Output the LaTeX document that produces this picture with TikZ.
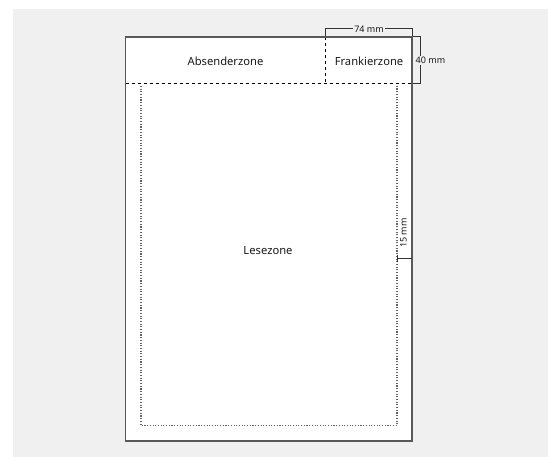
\documentclass[tikz,border=0pt]{standalone}
\usepackage{fontspec}
\setmainfont{Noto Sans}
\begin{document}
\begin{tikzpicture}[x=1pt,y=-1pt,
  page/.style={draw=black!65,line width=1.6pt},
  zoneline/.style={draw=black,dash pattern=on 3.5pt off 2.5pt,line width=1pt},
  readline/.style={draw=black!62,line width=1.1pt,dash pattern=on 1.1pt off 1.6pt},
  dimline/.style={draw=black!80,line width=1pt},
  zonelabel/.style={font=\fontsize{11.2}{13}\selectfont,text=black!90},
  dimlabel/.style={font=\fontsize{9}{10}\selectfont,text=black!90,fill=black!6,inner sep=1.5pt}]
\useasboundingbox (0,0) rectangle (548,457);
\fill[white] (0,0) rectangle (548,457);
\fill[black!6] (13,9) rectangle (548,457);
% page
\fill[white] (125.5,37) rectangle (412,441);
% reading zone
\draw[readline] (141,86) -- (141,425.5) -- (397,425.5) -- (397,86);
% zone separators
\draw[zoneline] (125.5,84) -- (412,84);
\draw[zoneline] (325.5,37) -- (325.5,84);
\draw[page] (125.5,37) rectangle (412,441);
% labels
\node[zonelabel] (abs) at (225.5,61) {Absenderzone};
\node[zonelabel] (fra) at (369,61) {Frankierzone};
\node[zonelabel] (les) at (268,251) {Lesezone};
% 74 mm
\coordinate (t1) at (325.5,36);
\coordinate (t2) at (412,36);
\draw[dimline] (t1) -- (325.5,29) -- (412,29) -- (t2);
\node[dimlabel] (d74) at (369,29) {74 mm};
% 40 mm
\coordinate (r1) at (413,37);
\coordinate (r2) at (413,84);
\draw[dimline] (r1) -- (420.5,37) -- (420.5,84) -- (r2);
\node[dimlabel,anchor=west,inner xsep=1pt] (d40) at (414.5,60.5) {40 mm};
% 15 mm
\coordinate (f1) at (397,258);
\coordinate (f2) at (412,258);
\draw[dimline] (f1) -- (f2);
\draw[dimline] (397.5,254.5) -- (397.5,261.5);
\node[dimlabel,rotate=90,fill=none] (d15) at (403.5,233) {15 mm};
\end{tikzpicture}
\end{document}
